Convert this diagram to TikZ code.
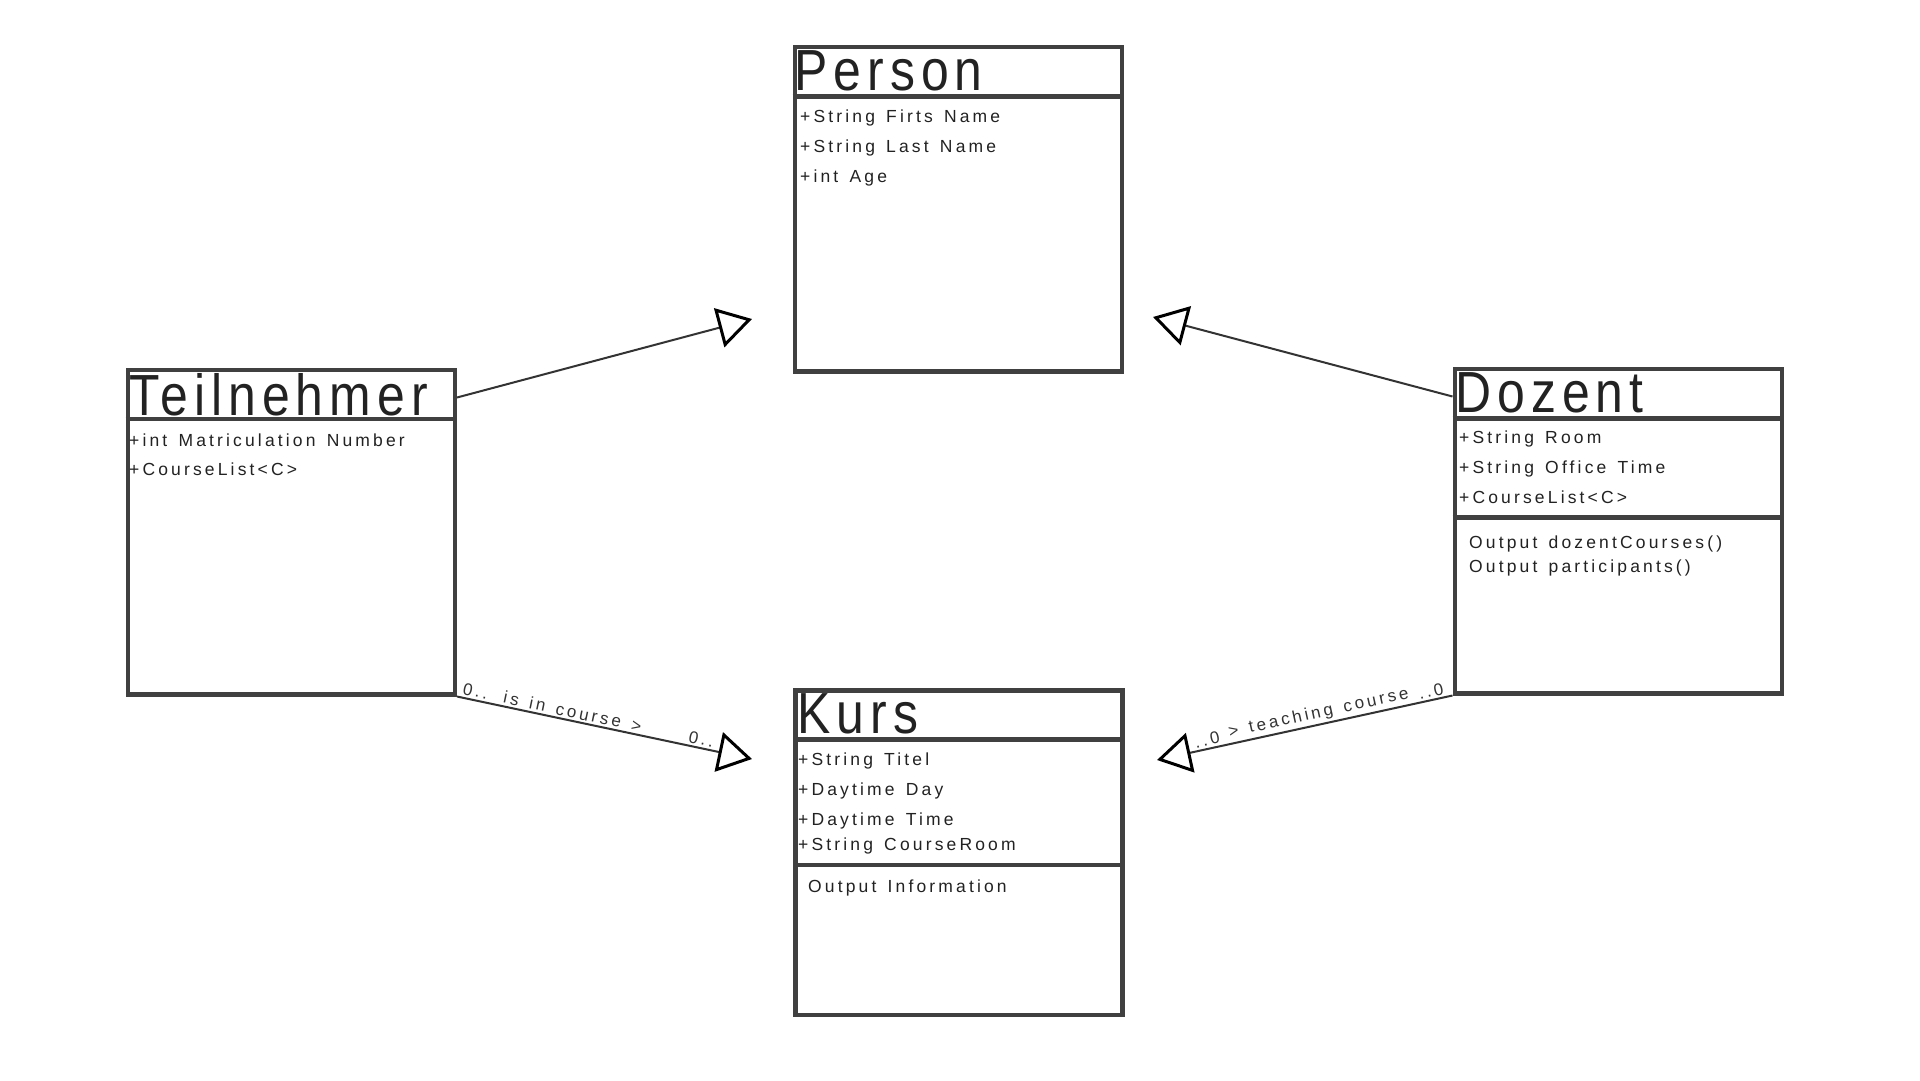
\documentclass[tikz,border=0pt]{standalone}
\usepackage{fontspec}
\usetikzlibrary{arrows.meta}
\newfontfamily\ttlfont[FakeStretch=0.86,LetterSpace=10.5]{Liberation Sans}
\newfontfamily\attfont[LetterSpace=18,WordSpace=1.4]{Liberation Sans}
\definecolor{boxc}{HTML}{404040}
\definecolor{txtc}{HTML}{222222}
\definecolor{linec}{HTML}{333333}
\begin{document}
\begin{tikzpicture}[x=1pt,y=-1pt,
  classbox/.style={draw=boxc, line width=4.5pt, fill=white, minimum width=327pt,
    minimum height=324.5pt, inner sep=0pt, anchor=north west},
  sepline/.style={draw=boxc, line width=4.5pt},
  ctitle/.style={anchor=base west, inner sep=0pt, text=txtc, font=\ttlfont\fontsize{58}{60}\selectfont},
  cattr/.style={anchor=base west, inner sep=0pt, text=txtc, font=\attfont\fontsize{17.5}{20}\selectfont},
  conn/.style={draw=linec, line width=2pt,
    -{Triangle[open, length=34pt, width=40pt, line width=3pt, color=black]}},
  lbl/.style={sloped, inner sep=2pt, text=linec, font=\attfont\fontsize{17}{20}\selectfont}]
\useasboundingbox (0,0) rectangle (1920,1080);
\fill[white] (0,0) rectangle (1920,1080);

% boxes
\node[classbox] (person) at (792.5,44.7) {};
\node[classbox] (teil) at (125.5,367.5) {};
\node[classbox] (doz) at (1452.5,366.5) {};
\node[classbox] (kurs) at (793,688) {};

% separators
\draw[sepline] ([yshift=-51.8pt]person.north west) -- ([yshift=-51.8pt]person.north east);
\draw[sepline] ([yshift=-51.5pt]teil.north west) -- ([yshift=-51.5pt]teil.north east);
\draw[sepline] ([yshift=-52pt]doz.north west) -- ([yshift=-52pt]doz.north east);
\draw[sepline] ([yshift=-151pt]doz.north west) -- ([yshift=-151pt]doz.north east);
\draw[sepline] ([yshift=-51.5pt]kurs.north west) -- ([yshift=-51.5pt]kurs.north east);
\draw[sepline] ([yshift=-177pt]kurs.north west) -- ([yshift=-177pt]kurs.north east);

% Person
\node[ctitle] (pt) at (794,90) {Person};
\node[cattr] (pa1) at (800,122) {+String Firts Name};
\node[cattr] (pa2) at (800,152.5) {+String Last Name};
\node[cattr] (pa3) at (800,182) {+int Age};

% Teilnehmer
\node[ctitle] (tt) at (129,415) {Teilnehmer};
\node[cattr] (ta1) at (129,446) {+int Matriculation Number};
\node[cattr] (ta2) at (129,475) {+CourseList<C>};

% Dozent
\node[ctitle] (dt) at (1455,412) {Dozent};
\node[cattr] (da1) at (1459,443) {+String Room};
\node[cattr] (da2) at (1459,473) {+String Office Time};
\node[cattr] (da3) at (1459,503) {+CourseList<C>};
\node[cattr] (dm1) at (1469,548) {Output dozentCourses()};
\node[cattr] (dm2) at (1469,572) {Output participants()};

% Kurs
\node[ctitle] (kt) at (797,733) {Kurs};
\node[cattr] (ka1) at (798,765) {+String Titel};
\node[cattr] (ka2) at (798,795) {+Daytime Day};
\node[cattr] (ka3) at (798,825.5) {+Daytime Time};
\node[cattr] (ka4) at (798,850.5) {+String CourseRoom};
\node[cattr] (km1) at (808,892) {Output Information};

% arrow tips
\coordinate (tipP1) at (752,319);
\coordinate (tipP2) at (1153,317);
\coordinate (tipK1) at (752,759);
\coordinate (tipK2) at (1157,760);

% connectors
\draw[conn] ([yshift=-30pt]teil.north east) -- (tipP1);
\draw[conn] ([yshift=-30pt]doz.north west) -- (tipP2);
\draw[conn] (teil.south east) --
  node[lbl, pos=0.005, anchor=south west] (l1) {0..\hspace{3pt} is in course >}
  node[lbl, pos=0.873, anchor=south east] (l2) {0..}
  (tipK1);
\draw[conn] (doz.south west) --
  node[lbl, pos=0.015, anchor=south east] (l3) {..0}
  node[lbl, pos=0.445, anchor=south] (l4) {> teaching course}
  node[lbl, pos=0.875, anchor=south west] (l5) {..0}
  (tipK2);
\end{tikzpicture}
\end{document}
